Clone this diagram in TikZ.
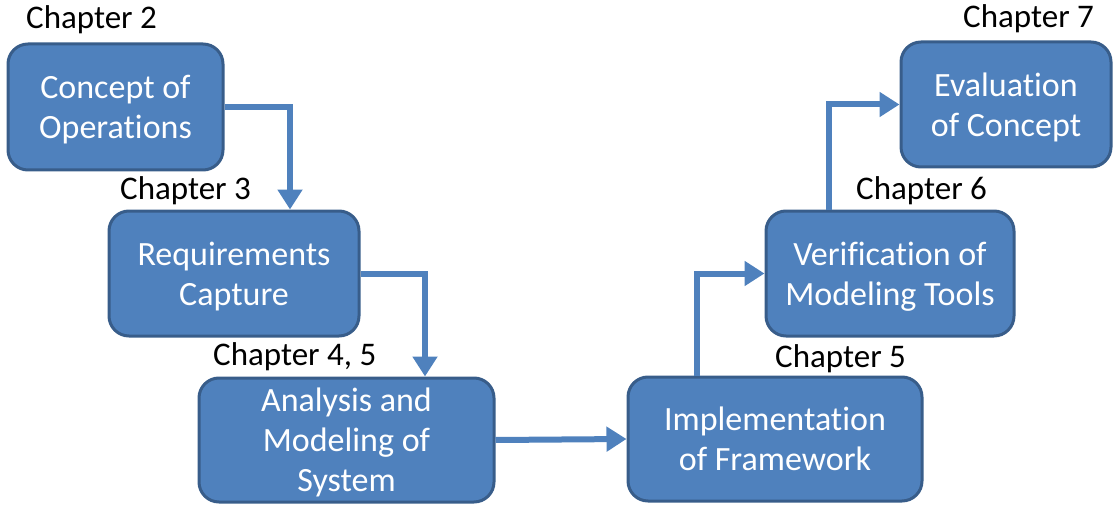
\documentclass[tikz,border=0pt]{standalone}
\usepackage{fontspec}
\setmainfont[Ligatures={NoCommon}]{Carlito}
\usetikzlibrary{arrows.meta}
\definecolor{boxfill}{HTML}{4F81BD}
\definecolor{boxline}{HTML}{385D8A}
\definecolor{flow}{HTML}{4F81BD}
\begin{document}
\begin{tikzpicture}[x=1pt,y=-1pt,
  stage/.style={draw=boxline, line width=3pt, fill=boxfill, rounded corners=20pt,
    text=white, align=center, inner sep=0pt, text depth=0pt, font=\fontsize{34}{40}\selectfont},
  chap/.style={anchor=base west, inner sep=0pt, font=\fontsize{33}{38}\selectfont},
  conn/.style={draw=flow, line width=6pt, -{Triangle[width=24pt,length=20pt]}}]
\useasboundingbox (0,0) rectangle (1115,505);

% process stages
\node[stage, minimum width=215pt, minimum height=126pt] (b1) at (115.5,107) {Concept of\\Operations};
\node[stage, minimum width=250pt, minimum height=125pt] (b2) at (234,273.5) {Requirements\\Capture};
\node[stage, minimum width=295pt, minimum height=124pt] (b3) at (346.5,440) {Analysis and\\Modeling of\\System};
\node[stage, minimum width=294pt, minimum height=124pt] (b4) at (775,439) {Implementation\\of Framework};
\node[stage, minimum width=248pt, minimum height=125pt] (b5) at (890,273.5) {Verification of\\Modeling Tools};
\node[stage, minimum width=210pt, minimum height=125pt] (b6) at (1006,104.5) {Evaluation\\of Concept};

% chapter captions
\node[chap] (c2) at (26,29) {Chapter 2};
\node[chap] (c3) at (120,200) {Chapter 3};
\node[chap] (c45) at (213,365) {Chapter 4, 5};
\node[chap] (c5) at (775,367) {Chapter 5};
\node[chap] (c6) at (856,199) {Chapter 6};
\node[chap] (c7) at (963,28) {Chapter 7};

% flow between stages
\draw[conn] (b1.east) -| ([xshift=56pt]b2.north);
\draw[conn] (b2.east) -| ([xshift=78.5pt]b3.north);
\draw[conn] (b3.east) -- (b4.west);
\draw[conn] ([xshift=-78pt]b4.north) |- (b5.west);
\draw[conn] ([xshift=-61pt]b5.north) |- (b6.west);
\end{tikzpicture}
\end{document}
